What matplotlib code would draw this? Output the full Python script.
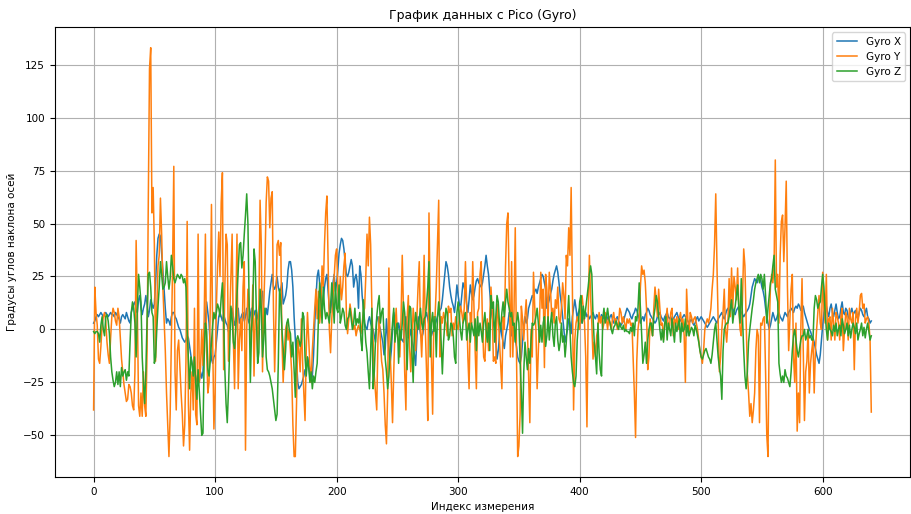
#!/usr/bin/env python3
'''Plot gyro readings from Pico'''
import numpy as np
import matplotlib
matplotlib.use('Agg')
import matplotlib.pyplot as plt

gyro_x = [
    3, 4, 6, 7, 6, 7, 8, 7, 6, 7,
    8, 7, 6, 7, 8, 7, 7, 6, 8, 7,
    6, 5, 3, 6, 7, 6, 5, 8, 6, 4,
    3, 8, 10, 12, 13, 9, 8, 14, 16, 10,
    7, 10, 12, 16, 12, 6, 9, 14, 12, 10,
    12, 22, 35, 43, 45, 44, 36, 28, 19, 10,
    3, 5, 4, 2, 6, 8, 8, 6, 5, 3,
    1, 0, -2, -4, -5, -6, -5, -3, -4, -8,
    -12, -16, -18, -20, -22, -25, -26, -24, -20, -23,
    -20, -8, 5, 13, 8, 3, -8, -14, -16, -13,
    -12, -6, 0, 6, 8, 6, 4, 7, 5, 3,
    2, -1, 1, 6, 10, 6, 2, 4, 7, 10,
    3, 5, 7, 8, 4, 6, 10, 5, 3, 7,
    10, 5, 7, 9, 4, 6, 10, 12, 16, 18,
    8, 5, 10, 7, 12, 18, 22, 26, 20, 19,
    21, 25, 20, 18, 19, 22, 12, 14, 16, 20,
    28, 32, 32, 28, 20, 6, -5, -15, -25, -28,
    -27, -26, -24, -22, -19, -20, -13, -16, -22, -25,
    -22, -12, 3, 15, 25, 28, 22, 18, 10, 14,
    20, 24, 26, 18, 10, 8, 14, 22, 26, 18,
    22, 28, 36, 40, 43, 42, 38, 32, 26, 25,
    27, 30, 33, 30, 20, 24, 26, 22, 10, 30,
    26, 16, 10, 3, 1, 0, 4, 6, 3, 1,
    0, -3, -6, 5, 6, 2, 0, -3, -6, -12,
    -9, 5, -3, -10, -16, -10, 0, 8, 4, -2,
    -1, 3, 0, -4, -5, -6, 2, 6, 1, -4,
    -3, 0, -5, -8, -12, -17, -4, 6, 2, -2,
    -4, -2, 3, 6, 8, 5, 2, -1, -3, -1,
    0, 2, 4, 6, 8, 9, 10, 14, 20, 26,
    32, 30, 26, 20, 16, 13, 11, 8, 14, 21,
    16, 12, 10, 16, 22, 20, 17, 12, 8, 14,
    21, 17, 14, 16, 20, 23, 24, 22, 21, 20,
    22, 26, 30, 35, 30, 26, 18, 10, 6, 3,
    0, -6, -14, -10, -3, 3, -3, -6, -9, -3,
    0, 3, 8, 6, -3, -1, 0, -5, -8, -13,
    -15, -16, -13, -6, 2, 6, 3, 5, 10, 12,
    14, 16, 15, 18, 19, 17, 20, 22, 24, 26,
    25, 22, 19, 10, 12, 14, 17, 19, 23, 26,
    28, 30, 27, 22, 16, 12, 6, 0, -6, -3,
    0, 5, 3, -2, 6, 10, 14, 10, 5, 8,
    10, 6, 3, 5, 6, 8, 6, 7, 5, 6,
    7, 8, 6, 5, 7, 6, 4, 5, 7, 6,
    5, 6, 7, 5, 4, 6, 7, 5, 3, 4,
    5, 6, 4, 3, 2, 3, 4, 6, 8, 10,
    9, 8, 6, 5, 7, 8, 10, 9, 7, 5,
    3, 5, 6, 4, 7, 8, 10, 9, 7, 6,
    5, 4, 3, 4, 6, 7, 8, 6, 5, 4,
    6, 7, 8, 6, 5, 6, 4, 5, 6, 7,
    8, 6, 5, 4, 5, 6, 7, 6, 5, 4,
    3, 4, 5, 3, 2, 3, 5, 6, 4, 5,
    6, 5, 4, 3, 2, 1, 2, 3, 4, 5,
    6, 5, 4, 3, 5, 6, 7, 8, 6, 5,
    7, 9, 10, 8, 9, 11, 10, 8, 7, 9,
    10, 11, 9, 8, 7, 6, 7, 8, 9, 10,
    12, 16, 20, 22, 24, 23, 22, 24, 25, 23,
    20, 18, 15, 10, 6, 3, 0, 2, 5, 8,
    6, 4, 5, 7, 8, 6, 5, 4, 6, 8,
    7, 6, 8, 9, 10, 9, 8, 10, 11, 10,
    12, 11, 9, 10, 11, 8, 6, 4, 2, 0,
    -1, -3, -4, -6, -9, -12, -14, -16, -12, -5,
    2, 8, 10, 11, 8, 6, 10, 12, 8, 6,
    9, 12, 8, 5, 6, 10, 13, 8, 7, 10,
    9, 6, 5, 8, 10, 7, 8, 9, 6, 5,
    8, 10, 9, 7, 6, 8, 10, 6, 5, 3,
    4,
]

gyro_y = [
    -38, 20, 8, 2, -14, -16, -8, 2, 6, 8,
    4, -6, -12, -16, -4, 6, 10, 8, 4, 2,
    10, 6, -4, -14, -20, -26, -30, -34, -33, -26,
    -27, -30, -36, -38, -20, 42, 10, -36, -41, -30,
    -41, -20, -36, -41, -10, 60, 123, 133, 55, 67,
    40, -15, 10, 30, 35, 62, 45, 20, 5, -10,
    -30, -45, -60, -40, -5, 30, 77, -20, -38, -10,
    -5, -18, -30, -40, -55, -45, -15, 51, -35, -57,
    -30, -20, -38, 10, -40, -45, 45, -25, -18, 0,
    -17, 5, 45, -10, -30, -25, 10, 59, -5, -47,
    -30, 10, 30, 46, 25, 60, 74, -19, 20, 45,
    40, -15, 5, 25, 45, -5, -28, 10, 45, -28,
    -5, 5, -10, 20, 32, -57, 0, 19, 10, -6,
    0, 21, -22, 5, 8, -13, 10, 61, 40, -20,
    10, 30, 60, 72, 70, 48, 62, 65, 10, -20,
    5, 40, 42, 35, 41, -5, -25, -10, 0, 3,
    -5, 0, -10, -20, -45, -60, -60, -35, -5, -10,
    -20, 5, -15, -30, -43, -10, 8, -5, -17, -25,
    -10, 0, 10, 19, 5, 18, 3, 10, 30, 20,
    40, 55, 63, 30, 0, -11, 5, 15, 25, 35,
    38, 20, 10, 25, 14, 20, 30, 36, 8, -2,
    5, 12, 8, 3, 0, 2, -3, 0, 2, 0,
    -2, 3, 8, 10, 25, 45, 30, 53, 40, 10,
    -5, -22, -30, -38, -5, 6, -5, -15, -19, -30,
    -45, -54, -30, 29, -10, -25, -44, -20, 0, 10,
    -3, -6, -13, 5, 35, 10, -20, -38, 5, 16,
    -8, -20, -5, 10, 3, -10, 5, 20, 32, 0,
    -13, 5, 35, 0, -20, -43, 55, 10, -13, -40,
    6, 6, 20, 40, 61, -13, 6, 3, 8, 5,
    3, -3, 11, 8, 10, -3, 3, 0, 6, 2,
    0, 5, 11, 8, 3, 10, 32, 12, -13, -28,
    8, 3, 32, 10, -10, -28, 8, 10, 26, 32,
    3, -13, -15, 0, 5, -10, 6, 20, 10, -15,
    -13, -16, 12, 6, -5, -16, -28, 6, 0, 30,
    50, 55, 20, -13, 32, -13, 10, 48, -10, -60,
    -55, -40, 11, 5, -5, 6, 14, 0, -22, -44,
    0, -13, 27, 11, 0, -28, -10, 5, 27, 10,
    19, -18, 26, 19, 3, 27, 19, 6, 10, 3,
    14, 10, 20, 5, 3, 10, 22, 16, 5, 35,
    30, 48, 35, 67, 20, -38, -5, 3, 6, 3,
    0, 10, 16, 10, 3, -13, -46, 6, 35, 15,
    3, -14, -6, -13, -3, 0, 8, 3, 6, 0,
    3, 8, 5, 0, 6, 3, 0, 5, 8, 3,
    5, 0, 3, 10, 8, 3, 6, 3, 0, 5,
    3, 5, 2, 3, -13, -30, -51, -15, 0, 5,
    20, 30, 26, 28, 22, 10, -19, -13, 5, 0,
    -3, 10, 20, 14, 6, 19, 10, 2, 3, -5,
    3, 5, 10, 0, 2, 8, 10, -3, 5, 3,
    6, 0, 5, 8, 2, 5, -3, -25, 19, 5,
    -3, 8, 6, 3, 5, 6, 3, 0, -5, -10,
    -13, -16, -10, 0, 3, 5, 3, 6, 10, 19,
    26, 40, 64, 30, 3, -20, -13, 0, 8, 19,
    0, -6, 3, 24, 6, 29, 10, 25, 20, 14,
    29, 10, 0, -3, 14, 38, 30, 5, -21, -30,
    -41, -35, -44, -38, -30, -10, 0, -3, -44, 3,
    2, 5, 6, -20, -50, -60, 0, 20, 26, 22,
    30, 80, 20, 26, 3, 35, 51, 54, 32, 48,
    70, 20, -10, 5, 19, 26, -13, -25, 3, -48,
    -30, -44, 0, 24, -10, -43, -20, -15, 0, -30,
    -16, -10, -5, -30, -10, 0, 8, 16, 3, 0,
    27, 10, 3, 26, -5, 5, 6, -5, 10, 3,
    -5, 8, 6, 3, -5, 6, 10, -10, 0, 8,
    6, -5, 10, 5, 3, 8, -19, 5, 10, 3,
    8, 16, 17, 10, 12, 3, 5, 6, 3, -5,
    -39,
]

gyro_z = [
    -1, -2, -1, -1, -2, -6, 2, 6, 0, -3,
    6, 7, 4, -2, -13, -20, -24, -27, -25, -20,
    -26, -20, -27, -18, -22, -20, -19, -24, -20, -22,
    -6, 8, 13, 10, 3, -13, 10, 26, 20, 13,
    -13, -25, -35, -20, 5, 26, 27, 20, 8, 6,
    -16, -13, 0, 11, 20, 32, 26, 19, 20, 22,
    32, 25, 19, 24, 35, 30, 24, 22, 24, 26,
    25, 24, 26, 25, 22, 24, 20, 0, -14, -28,
    -13, -16, -22, -13, -25, -33, -19, -30, -40, -50,
    -49, -13, 3, -1, -19, -22, -15, -6, 2, 8,
    5, 8, 12, 10, 6, 15, 22, 5, -19, -35,
    -44, -28, -9, 11, 5, -6, -9, 0, 16, 28,
    40, 41, 29, 35, 45, 54, 64, 50, 13, -25,
    0, 10, 38, 32, 6, -16, -11, 19, 10, -13,
    -5, 10, -13, -19, -20, -22, -25, -28, -33, -38,
    -43, -40, -16, 19, 13, 0, -9, -19, -10, 3,
    5, 0, -2, -13, -6, -19, -32, -5, -3, -5,
    -8, -5, 8, 6, -13, -22, -13, -18, -25, -20,
    -28, -22, -25, -20, -16, 5, 22, 14, 3, 20,
    10, 5, 8, 6, 3, 11, 22, 14, 3, 22,
    10, 8, 21, 3, 6, 10, 8, 2, 0, 5,
    6, 10, 5, 0, 3, 10, 2, 5, 3, 8,
    -5, -10, 14, 3, -6, -11, -20, -28, -10, 10,
    -28, -20, -5, 6, 12, 16, 3, 8, 10, -2,
    -14, -20, -28, -22, -10, -5, 3, 10, -6, 0,
    3, -16, 0, -5, 3, 13, 8, -1, -19, 0,
    11, 10, -11, -25, 0, 8, 3, 0, 5, 10,
    3, 0, 5, 6, 12, 20, 32, -13, 3, 8,
    -1, 6, -13, 6, 13, 5, -6, -21, -6, 3,
    10, 8, -5, -3, 3, 2, -3, -13, -16, 8,
    13, 6, -1, -5, 3, 5, 8, -5, 0, 3,
    -6, 3, 0, -3, 5, -10, 6, -3, 3, -1,
    -6, 3, 8, 0, -6, 3, -10, 16, 10, 13,
    -6, 6, 16, 13, 3, 0, 8, 13, 6, 13,
    19, 13, 10, 6, 8, 2, 3, -6, 3, 8,
    3, -15, -30, -49, -20, -6, -13, -19, -9, -16,
    -5, 3, 2, 3, 6, 10, 3, -6, 2, -6,
    3, 6, -8, -3, 6, -5, 3, 8, -3, -8,
    3, 6, -5, -10, -6, 3, -6, -3, -13, -6,
    6, 16, 0, -13, -20, -25, -27, -22, -5, 3,
    13, 16, 3, 11, 5, 10, 15, 20, 26, 30,
    26, 6, -6, -13, -21, 3, -11, -19, -22, 5,
    10, 3, 6, 10, 5, 3, 0, -2, 1, 2,
    4, 2, 0, 3, 1, 0, 2, -1, 0, -1,
    -1, -2, 1, -1, 3, -3, 6, 4, 10, 22,
    10, -2, -16, -12, -6, -16, -5, 0, 3, 3,
    -3, 6, 10, 16, 13, 6, 0, -5, 0, -6,
    3, 6, -5, 3, 0, -3, 5, 0, -6, 3,
    -1, 2, 5, -6, 3, -1, 0, 5, -3, 2,
    -3, -1, 1, 0, -3, 2, 0, -3, -6, -10,
    -13, -14, -12, -10, -9, -11, -13, -14, -16, -12,
    -6, 0, 3, -5, -13, -18, -22, -33, -10, 0,
    2, 3, 3, 6, 10, 14, 3, 8, 11, 16,
    21, 10, 3, 24, 6, -10, -22, -28, -20, -6,
    0, 5, 10, 14, 19, 22, 24, 26, 22, 26,
    24, 19, 26, 16, 3, 10, 16, 22, 24, 30,
    35, 19, 16, 13, -16, -21, -25, -22, -25, -19,
    -22, -23, -25, -27, -20, -10, -3, 0, -5, -10,
    -13, -9, -5, -3, -3, 0, -5, -3, 0, -4,
    -3, -5, -5, 10, 16, 14, 10, 12, 13, 20,
    26, 20, 8, 0, -5, 3, 0, -1, -3, 2,
    -1, 3, -3, 0, 2, -3, 5, 2, -2, 0,
    3, -3, 2, -4, 0, 3, 1, -2, 3, -5,
    -2, 0, 3, -3, 1, -4, 0, 3, -1, -5,
    -3,
]

plt.rcParams['font.size'] = 7.5

fig, ax = plt.subplots(figsize=(9.12, 5.14), dpi=100)
fig.subplots_adjust(left=0.06, right=0.998, bottom=0.072, top=0.947)

for name, data in (('Gyro X', gyro_x), ('Gyro Y', gyro_y), ('Gyro Z', gyro_z)):
    ax.plot(np.arange(len(data)), data, label=name, linewidth=1.1)

ax.set_title('График данных с Pico (Gyro)', fontsize=9)
ax.set_xlabel('Индекс измерения')
ax.set_ylabel('Градусы углов наклона осей')
ax.grid(True)
ax.legend(loc='upper right')

fig.savefig('out.png', dpi=100)
